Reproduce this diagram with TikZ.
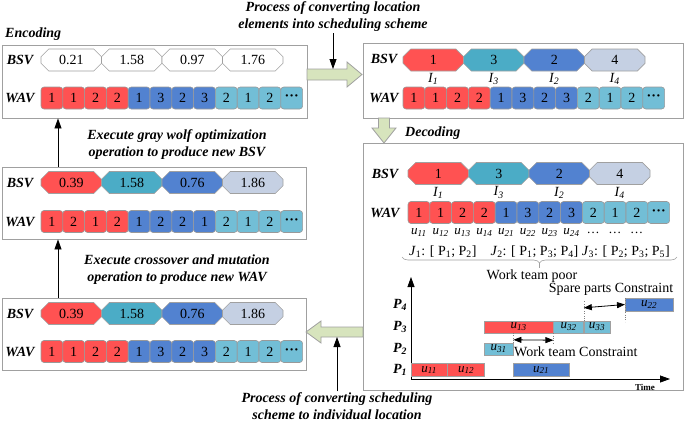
\documentclass[tikz,border=0pt]{standalone}
\usepackage{fontspec}
\setmainfont{Liberation Serif}
\usepackage{tikz}
\usetikzlibrary{arrows.meta,positioning,shapes.misc,decorations.pathreplacing,calc}

\definecolor{cred}{RGB}{255,82,82}
\definecolor{cteal}{RGB}{75,172,198}
\definecolor{cblue}{RGB}{82,130,208}
\definecolor{clight}{RGB}{114,190,214}
\definecolor{cgray}{RGB}{197,208,227}
\definecolor{cgreen}{RGB}{215,228,189}
\definecolor{cline}{RGB}{160,160,160}

\tikzstyle{panel}=[draw=cline, line width=0.9pt, inner sep=0pt]
\tikzstyle{bsv}=[chamfered rectangle, chamfered rectangle xsep=6pt, draw=cline, line width=0.6pt, minimum width=60.5pt, minimum height=22pt, inner sep=0pt, font=\fontsize{14}{16}\selectfont]
\tikzstyle{wav}=[rectangle, rounded corners=3pt, draw=gray!80, line width=0.6pt, minimum width=21.8pt, minimum height=22pt, inner sep=0pt, font=\fontsize{14}{16}\selectfont]
\tikzstyle{lbl}=[font=\fontsize{14}{16}\selectfont\bfseries\itshape]
\tikzstyle{note}=[font=\fontsize{14}{17}\selectfont\bfseries\itshape, align=center, inner sep=1pt]
\tikzstyle{idx}=[font=\fontsize{14}{16}\selectfont\itshape, inner sep=0pt]
\tikzstyle{ulbl}=[font=\fontsize{13}{15}\selectfont\itshape, inner sep=0pt]
\tikzstyle{plain}=[font=\fontsize{14}{16}\selectfont, inner sep=1pt]
\tikzstyle{bar}=[draw=cline, anchor=west, minimum height=13pt, inner sep=0pt, font=\fontsize{13}{15}\selectfont\itshape]
\tikzstyle{blk}=[fill=cgreen, draw=cline, line width=0.8pt]
\tikzstyle{go}=[-{Triangle[length=10pt,width=7pt]}, line width=0.8pt]
\tikzstyle{dimarr}=[{Triangle[length=8pt,width=6pt]}-{Triangle[length=8pt,width=6pt]}, line width=0.8pt]

\newcommand{\more}{\textbf{···}}
% one row of work assignment cells
\newcommand{\wavrow}[4]{%
  \foreach \v [count=\i] in {#4} {%
    \pgfmathsetmacro{\cx}{#2+10.9+21.8*(\i-1)}%
    \ifnum\i<5 \def\wc{cred}\else\ifnum\i<9 \def\wc{cblue}\else\def\wc{clight}\fi\fi
    \node[wav, fill=\wc] (#1\i) at (\cx,#3) {\v};
  }}
% one row of sequence cells
\newcommand{\bsvrow}[4]{%
  \foreach \v/\c [count=\i] in {#4} {%
    \pgfmathsetmacro{\cx}{#2+30.25+60.5*(\i-1)}%
    \node[bsv, fill=\c] (#1\i) at (\cx,#3) {\v};
  }}

\begin{document}
\begin{tikzpicture}[x=1pt,y=-1pt]
\useasboundingbox (0,0) rectangle (685,423);

% panels
\node[panel, minimum width=305pt, minimum height=73pt] (enc) at (154.5,81.5) {};
\node[panel, minimum width=320pt, minimum height=75pt] (sched) at (523,80.5) {};
\node[panel, minimum width=320pt, minimum height=247pt] (dec) at (523,266.5) {};
\node[panel, minimum width=304pt, minimum height=72pt] (gwo) at (154,203) {};
\node[panel, minimum width=304pt, minimum height=72pt] (cross) at (154,334) {};

% encoding
\node[lbl, anchor=west, inner sep=0pt] (enctitle) at (5,34) {Encoding};
\node[lbl] (encb) at (20,60) {BSV};
\node[lbl] (encw) at (20,98) {WAV};
\bsvrow{eb}{41}{60}{0.21/white,1.58/white,0.97/white,1.76/white}
\wavrow{ew}{41}{98}{1,1,2,2,1,3,2,3,2,1,2,\more}

% after gray wolf step
\node[lbl] (gwob) at (20,183) {BSV};
\node[lbl] (gwow) at (20,221.5) {WAV};
\bsvrow{gb}{41}{182.5}{0.39/cred,1.58/cteal,0.76/cblue,1.86/cgray}
\wavrow{gw}{41}{221.5}{1,2,1,2,1,2,2,1,2,1,2,\more}

% after crossover and mutation
\node[lbl] (crb) at (20,313.5) {BSV};
\node[lbl] (crw) at (20,351.5) {WAV};
\bsvrow{cb}{41}{313.5}{0.39/cred,1.58/cteal,0.76/cblue,1.86/cgray}
\wavrow{cw}{41}{351.5}{1,1,2,2,1,3,2,3,2,1,2,\more}

% scheduling scheme
\node[lbl] (schb) at (384,59) {BSV};
\node[lbl] (schw) at (384,98) {WAV};
\bsvrow{sb}{403}{60}{1/cred,3/cteal,2/cblue,4/cgray}
\foreach \k/\n in {1/1,2/3,3/2,4/4}
  \node[idx] (si\k) at ($(sb\k)+(0,19)$) {I\textsubscript{\n}};
\wavrow{sw}{403}{98}{1,1,2,2,1,3,2,3,2,1,2,\more}

% decoding
\node[lbl, anchor=west, inner sep=0pt] (dectitle) at (405,133) {Decoding};
\node[lbl] (decb) at (385,173.5) {BSV};
\node[lbl] (decw) at (385,212.5) {WAV};
\bsvrow{db}{408}{173.5}{1/cred,3/cteal,2/cblue,4/cgray}
\foreach \k/\n in {1/1,2/3,3/2,4/4}
  \node[idx] (di\k) at ($(db\k)+(0,19)$) {I\textsubscript{\n}};
\wavrow{dw}{408}{212.5}{1,1,2,2,1,3,2,3,2,1,2,\more}
\foreach \k/\n in {1/11,2/12,3/13,4/14,5/21,6/22,7/23,8/24}
  \node[ulbl] (du\k) at ($(dw\k)+(0,20)$) {u\textsubscript{\n}};
\foreach \k in {9,10,11}
  \node[ulbl] (du\k) at ($(dw\k)+(0,20)$) {\dots};
\node[plain] (jobs) at (539.5,252) {\textit{J}\textsubscript{1}: [ P\textsubscript{1}; P\textsubscript{2}]\quad \textit{J}\textsubscript{2}: [ P\textsubscript{1}; P\textsubscript{3}; P\textsubscript{4}] \textit{J}\textsubscript{3}: [ P\textsubscript{2}; P\textsubscript{3}; P\textsubscript{5}]};
\draw[cline, line width=0.6pt, decorate, decoration={brace, mirror, amplitude=6pt}] (402,257) -- (677,257);
\node[plain] (poor) at (532,276) {Work team poor};
\draw[cline, line width=0.6pt] (539.5,263) -- (poor.north -| 539.5,0);

% gantt chart
\coordinate (o) at (411,379);
\coordinate (ytop) at (411,277);
\coordinate (xend) at (670,379);
\draw[go] (o) -- (ytop);
\draw[go] (o) -- (xend);
\node[font=\fontsize{9}{10}\selectfont\bfseries] (time) at (645,387) {Time};
\foreach \n/\y in {1/370,2/349,3/327,4/304.5}
  \node[lbl] (p\n) at (400,\y) {P\textsubscript{\n}};
\node[bar, fill=cred, minimum width=36pt] (b11) at (411,370) {u\textsubscript{11}};
\node[bar, fill=cred, minimum width=37pt] (b12) at (b11.east) {u\textsubscript{12}};
\node[bar, fill=cblue, minimum width=56pt] (b21) at (513,370) {u\textsubscript{21}};
\node[bar, fill=clight, minimum width=29pt, minimum height=12pt] (b31) at (484,349) {u\textsubscript{31}};
\node[bar, fill=cred, minimum width=69pt, minimum height=12pt] (b13) at (484,327) {u\textsubscript{13}};
\node[bar, fill=clight, minimum width=30pt, minimum height=12pt] (b32) at (b13.east) {u\textsubscript{32}};
\node[bar, fill=clight, minimum width=26pt, minimum height=12pt] (b33) at (b32.east) {u\textsubscript{33}};
\node[bar, fill=cblue, minimum width=48pt] (b22) at (625,304.5) {u\textsubscript{22}};

% constraints
\draw[gray, dotted] (b31.north east) -- ++(0,-10);
\draw[gray, dotted] (b13.south east) -- ++(0,10);
\draw[dimarr] ($(b31.north east)+(0,-3)$) -- ($(b13.south east)+(0,7)$);
\node[plain, anchor=west] (wtc) at (513,352) {Work team Constraint};
\draw[gray, dotted] (b32.north east) -- ++(0,-21);
\draw[gray, dotted] (b22.north west) -- ++(0,24);
\draw[dimarr] ($(b32.north east)+(0,-13)$) -- (b22.west);
\node[plain] (spc) at (611,289) {Spare parts Constraint};

% block arrows between panels
\draw[blk] (307,69) -- (347,69) -- (347,62) -- (362,74.5) -- (347,87) -- (347,80) -- (307,80) -- cycle;
\draw[blk] (378.5,118) -- (378.5,128) -- (372,128) -- (384,143) -- (396,128) -- (389.5,128) -- (389.5,118) -- cycle;
\draw[blk] (363,327) -- (321,327) -- (321,321) -- (306,332) -- (321,343) -- (321,337) -- (363,337) -- cycle;

% process notes
\node[note] (n1) at (333,17) {Process of converting location\\elements into scheduling scheme};
\draw[go] (n1.south) -- (333,69);
\node[note] (n2) at (177,145) {Execute gray wolf optimization\\operation to produce new BSV};
\draw[go] (gwo.north -| 58,0) -- (enc.south -| 58,0);
\node[note] (n3) at (177,270) {Execute crossover and mutation\\operation to produce new WAV};
\draw[go] (cross.north -| 58,0) -- (gwo.south -| 58,0);
\node[note] (n4) at (337,406) {Process of converting scheduling\\scheme to individual location};
\draw[go] (n4.north) -- (337,337);
\end{tikzpicture}
\end{document}
